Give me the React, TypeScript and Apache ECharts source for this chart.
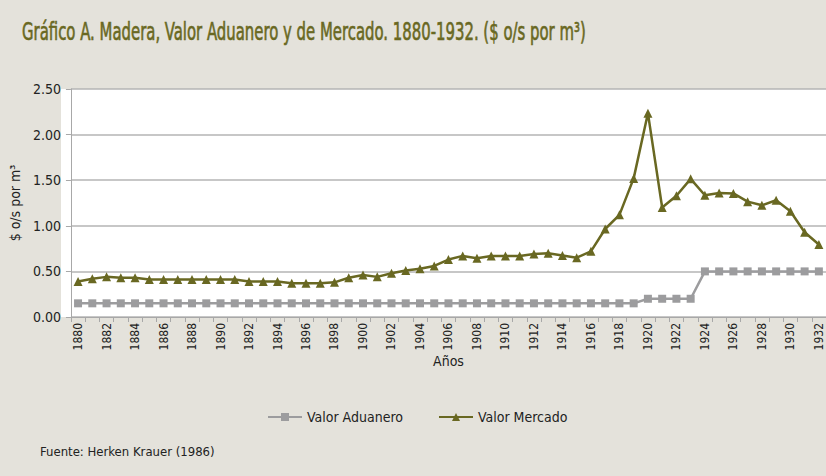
import React, { useEffect, useRef } from "react";
import * as echarts from "echarts";

const years: string[] = [];
for (let y = 1880; y <= 1932; y++) years.push(String(y));

const valorAduanero = [
  0.15, 0.15, 0.15, 0.15, 0.15, 0.15, 0.15, 0.15, 0.15, 0.15,
  0.15, 0.15, 0.15, 0.15, 0.15, 0.15, 0.15, 0.15, 0.15, 0.15,
  0.15, 0.15, 0.15, 0.15, 0.15, 0.15, 0.15, 0.15, 0.15, 0.15,
  0.15, 0.15, 0.15, 0.15, 0.15, 0.15, 0.15, 0.15, 0.15, 0.15,
  0.2, 0.2, 0.2, 0.2,
  0.5, 0.5, 0.5, 0.5, 0.5, 0.5, 0.5, 0.5, 0.5,
];

const valorMercado = [
  0.39, 0.42, 0.44, 0.43, 0.43, 0.41, 0.41, 0.41, 0.41, 0.41,
  0.41, 0.41, 0.39, 0.39, 0.39, 0.37, 0.37, 0.37, 0.38, 0.43,
  0.46, 0.44, 0.48, 0.51, 0.53, 0.56, 0.63, 0.67, 0.645, 0.67,
  0.67, 0.67, 0.69, 0.70, 0.675, 0.65, 0.72, 0.965, 1.12, 1.52,
  2.235, 1.2, 1.33, 1.515, 1.335, 1.36, 1.355, 1.265, 1.225, 1.28,
  1.16, 0.93, 0.795,
];

const yTicks = ["0.00", "0.50", "1.00", "1.50", "2.00", "2.50"];

const BG = "#e4e2db";
const OLIVE = "#696822";
const GRAY = "#9c9c9e";
const FONT = "'Liberation Sans Narrow', 'DejaVu Sans Condensed', 'Liberation Sans', sans-serif";

export default function App() {
  const ref = useRef<HTMLDivElement>(null);
  useEffect(() => {
    if (!ref.current) return;
    const chart = echarts.init(ref.current, undefined, { renderer: "svg" });
    chart.setOption({
      animation: false,
      backgroundColor: BG,
      textStyle: { fontFamily: FONT },
      graphic: [
        {
          type: "rect",
          left: 61,
          top: 89,
          shape: { width: 765, height: 228 },
          style: { fill: "#ffffff" },
          z: -10,
          silent: true,
        },
        {
          type: "text",
          x: 22,
          y: 19,
          scaleX: 0.69,
          scaleY: 1.05,
          style: {
            text: "Gráfico A. Madera, Valor Aduanero y de Mercado. 1880-1932. ($ o/s por m³)",
            fill: OLIVE,
            font: "24px " + FONT,
            stroke: OLIVE,
            lineWidth: 0.6,
          },
        },
        {
          type: "text",
          x: 40,
          y: 445,
          style: {
            text: "Fuente: Herken Krauer (1986)",
            fill: "#222222",
            font: "13px " + FONT,
          },
        },
      ],
      grid: { left: 61, right: 0, top: 89, bottom: 159, containLabel: false },
      legend: {
        left: 262,
        top: 405,
        itemWidth: 34,
        itemHeight: 10,
        itemGap: 35,
        textStyle: { fontFamily: FONT, fontSize: 14, color: "#222222" },
        data: ["Valor Aduanero", "Valor Mercado"],
      },
      xAxis: {
        type: "category",
        data: years,
        boundaryGap: true,
        name: "Años",
        nameLocation: "middle",
        nameGap: 36,
        nameTextStyle: { fontFamily: FONT, fontSize: 14, color: "#222222" },
        axisLine: { lineStyle: { color: "#a8a8a8", width: 1 } },
        axisTick: { show: true, interval: 0, length: 5, lineStyle: { color: "#a8a8a8" } },
        axisLabel: {
          interval: 1,
          rotate: 90,
          fontFamily: FONT,
          fontSize: 12,
          color: "#222222",
          margin: 6,
        },
        splitLine: { show: false },
      },
      yAxis: {
        type: "value",
        min: 0,
        max: 2.5,
        interval: 0.5,
        name: "$ o/s por m³",
        nameLocation: "middle",
        nameGap: 40,
        nameRotate: 90,
        nameTextStyle: { fontFamily: FONT, fontSize: 14, color: "#222222" },
        axisLine: { show: true, lineStyle: { color: "#a8a8a8" } },
        axisTick: { show: true, length: 5, lineStyle: { color: "#a8a8a8" } },
        axisLabel: {
          fontFamily: FONT,
          fontSize: 14,
          color: "#222222",
          margin: 10,
          formatter: (v: number) => yTicks[Math.round(v / 0.5)] ?? v.toFixed(2),
        },
        splitLine: { show: true, lineStyle: { color: "#b4b4b4", width: 1.5 } },
      },
      series: [
        {
          name: "Valor Aduanero",
          type: "line",
          data: valorAduanero,
          symbol: "rect",
          symbolSize: 8,
          itemStyle: { color: GRAY },
          lineStyle: { color: GRAY, width: 2.5 },
        },
        {
          name: "Valor Mercado",
          type: "line",
          data: valorMercado,
          symbol: "triangle",
          symbolSize: 9,
          itemStyle: { color: OLIVE },
          lineStyle: { color: OLIVE, width: 2.5 },
        },
      ],
    });
    return () => chart.dispose();
  }, []);
  return <div ref={ref} style={{ width: 826, height: 476, position: "fixed", left: 0, top: 0 }} />;
}
